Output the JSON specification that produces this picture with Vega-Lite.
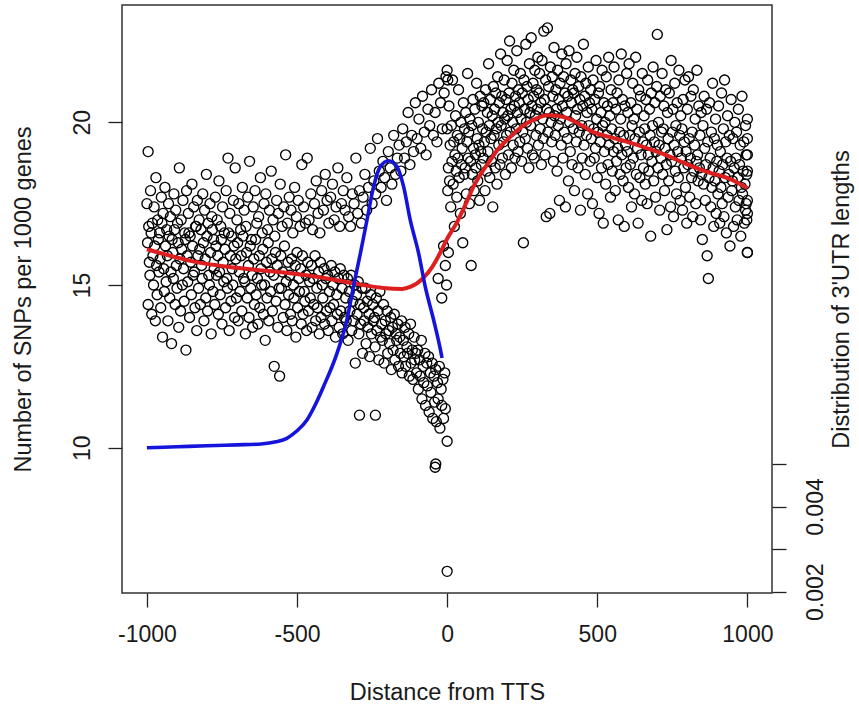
{
"$schema": "https://vega.github.io/schema/vega-lite/v6.json",
"width": 650,
"height": 588,
"autosize": {"type": "none"},
"padding": {"left": 122, "top": 5, "right": 87, "bottom": 113},
"background": "white",
"config": {
  "view": {"stroke": "#333333", "strokeWidth": 1.5},
  "font": "Liberation Sans",
  "axis": {"domain": false, "grid": false, "tickColor": "#222222", "tickWidth": 1.3, "tickSize": 14,
           "labelFont": "Liberation Sans", "labelFontSize": 23, "labelColor": "#1a1a1a",
           "titleFont": "Liberation Sans", "titleFontSize": 23.5, "titleFontWeight": "normal", "titleColor": "#1a1a1a"}
},
"datasets": {
"snp": [
{"x":-1000,"y":17.5},{"x":-998,"y":16.3},{"x":-996,"y":14.4},{"x":-994,"y":16.8},{"x":-992,"y":15.7},{"x":-990,"y":15.3},{"x":-988,"y":17.9},{"x":-986,"y":16.6},{"x":-984,"y":14.1},{"x":-982,"y":16.9},{"x":-980,"y":15.9},{"x":-978,"y":15.0},{"x":-976,"y":17.4},{"x":-974,"y":16.2},{"x":-972,"y":13.9},{"x":-970,"y":18.3},{"x":-968,"y":15.6},{"x":-966,"y":14.7},{"x":-964,"y":17.0},{"x":-962,"y":16.4},{"x":-960,"y":15.4},{"x":-958,"y":16.6},{"x":-956,"y":15.8},{"x":-954,"y":14.3},{"x":-952,"y":17.7},{"x":-950,"y":16.9},{"x":-948,"y":13.4},{"x":-946,"y":17.2},{"x":-944,"y":15.5},{"x":-942,"y":14.8},
{"x":-940,"y":18.0},{"x":-938,"y":16.2},{"x":-936,"y":15.1},{"x":-934,"y":16.7},{"x":-932,"y":15.9},{"x":-930,"y":13.9},{"x":-928,"y":17.5},{"x":-926,"y":16.5},{"x":-924,"y":14.6},{"x":-922,"y":17.1},{"x":-920,"y":15.4},{"x":-918,"y":13.2},{"x":-916,"y":16.4},{"x":-914,"y":16.0},{"x":-912,"y":15.2},{"x":-910,"y":17.8},{"x":-908,"y":16.7},{"x":-906,"y":14.4},{"x":-904,"y":17.3},{"x":-902,"y":15.6},{"x":-900,"y":14.9},{"x":-898,"y":16.9},{"x":-896,"y":16.3},{"x":-894,"y":13.7},{"x":-892,"y":18.6},{"x":-890,"y":15.8},{"x":-888,"y":14.2},{"x":-886,"y":17.0},{"x":-884,"y":16.1},{"x":-882,"y":15.0},
{"x":-880,"y":17.6},{"x":-878,"y":15.5},{"x":-876,"y":14.5},{"x":-874,"y":16.6},{"x":-872,"y":16.4},{"x":-870,"y":13.0},{"x":-868,"y":17.9},{"x":-866,"y":15.9},{"x":-864,"y":15.1},{"x":-862,"y":17.2},{"x":-860,"y":16.6},{"x":-858,"y":14.0},{"x":-856,"y":16.5},{"x":-854,"y":15.7},{"x":-852,"y":14.7},{"x":-850,"y":18.1},{"x":-848,"y":16.2},{"x":-846,"y":15.3},{"x":-844,"y":17.4},{"x":-842,"y":15.4},{"x":-840,"y":14.3},{"x":-838,"y":16.8},{"x":-836,"y":16.8},{"x":-834,"y":13.6},{"x":-832,"y":17.6},{"x":-830,"y":15.9},{"x":-828,"y":14.9},{"x":-826,"y":17.0},{"x":-824,"y":16.1},{"x":-822,"y":14.4},
{"x":-820,"y":16.7},{"x":-818,"y":15.6},{"x":-816,"y":15.2},{"x":-814,"y":17.8},{"x":-812,"y":16.3},{"x":-810,"y":13.9},{"x":-808,"y":17.3},{"x":-806,"y":15.8},{"x":-804,"y":14.6},{"x":-802,"y":18.4},{"x":-800,"y":16.5},{"x":-798,"y":14.2},{"x":-796,"y":16.9},{"x":-794,"y":15.3},{"x":-792,"y":15.0},{"x":-790,"y":17.5},{"x":-788,"y":16.0},{"x":-786,"y":13.5},{"x":-784,"y":17.1},{"x":-782,"y":16.7},{"x":-780,"y":14.8},{"x":-778,"y":16.4},{"x":-776,"y":15.5},{"x":-774,"y":14.4},{"x":-772,"y":17.7},{"x":-770,"y":16.2},{"x":-768,"y":15.3},{"x":-766,"y":17.0},{"x":-764,"y":15.9},{"x":-762,"y":14.1},
{"x":-760,"y":18.2},{"x":-758,"y":15.4},{"x":-756,"y":14.7},{"x":-754,"y":16.8},{"x":-752,"y":16.4},{"x":-750,"y":13.8},{"x":-748,"y":17.4},{"x":-746,"y":15.7},{"x":-744,"y":15.1},{"x":-742,"y":16.6},{"x":-740,"y":16.1},{"x":-738,"y":14.3},{"x":-736,"y":17.9},{"x":-734,"y":15.2},{"x":-732,"y":14.9},{"x":-730,"y":18.9},{"x":-728,"y":16.6},{"x":-726,"y":13.6},{"x":-724,"y":17.2},{"x":-722,"y":15.9},{"x":-720,"y":14.5},{"x":-718,"y":16.5},{"x":-716,"y":15.5},{"x":-714,"y":15.0},{"x":-712,"y":17.6},{"x":-710,"y":16.2},{"x":-708,"y":14.0},{"x":-706,"y":18.6},{"x":-704,"y":15.8},{"x":-702,"y":14.6},
{"x":-700,"y":17.0},{"x":-698,"y":16.3},{"x":-696,"y":13.9},{"x":-694,"y":17.5},{"x":-692,"y":15.4},{"x":-690,"y":14.8},{"x":-688,"y":16.7},{"x":-686,"y":15.9},{"x":-684,"y":14.2},{"x":-682,"y":18.0},{"x":-680,"y":16.5},{"x":-678,"y":15.2},{"x":-676,"y":17.3},{"x":-674,"y":15.1},{"x":-672,"y":13.5},{"x":-670,"y":16.8},{"x":-668,"y":16.0},{"x":-666,"y":14.6},{"x":-664,"y":17.7},{"x":-662,"y":15.6},{"x":-660,"y":14.0},{"x":-658,"y":18.8},{"x":-656,"y":16.2},{"x":-654,"y":14.9},{"x":-652,"y":16.4},{"x":-650,"y":15.3},{"x":-648,"y":13.7},{"x":-646,"y":17.4},{"x":-644,"y":15.8},{"x":-642,"y":14.4},
{"x":-640,"y":17.9},{"x":-638,"y":16.4},{"x":-636,"y":14.7},{"x":-634,"y":16.9},{"x":-632,"y":15.2},{"x":-630,"y":13.8},{"x":-628,"y":17.1},{"x":-626,"y":15.9},{"x":-624,"y":14.3},{"x":-622,"y":18.3},{"x":-620,"y":15.5},{"x":-618,"y":15.0},{"x":-616,"y":16.6},{"x":-614,"y":16.1},{"x":-612,"y":14.1},{"x":-610,"y":17.5},{"x":-608,"y":15.0},{"x":-606,"y":13.3},{"x":-604,"y":17.8},{"x":-602,"y":15.7},{"x":-600,"y":14.6},{"x":-598,"y":16.7},{"x":-596,"y":16.3},{"x":-594,"y":13.9},{"x":-592,"y":17.3},{"x":-590,"y":15.4},{"x":-588,"y":14.8},{"x":-586,"y":18.5},{"x":-584,"y":15.8},{"x":-582,"y":14.2},
{"x":-580,"y":17.0},{"x":-578,"y":15.3},{"x":-576,"y":12.5},{"x":-574,"y":16.5},{"x":-572,"y":16.0},{"x":-570,"y":14.5},{"x":-568,"y":17.6},{"x":-566,"y":15.6},{"x":-564,"y":13.7},{"x":-562,"y":17.2},{"x":-560,"y":14.9},{"x":-558,"y":12.2},{"x":-556,"y":18.1},{"x":-554,"y":15.9},{"x":-552,"y":14.9},{"x":-550,"y":16.8},{"x":-548,"y":15.4},{"x":-546,"y":14.0},{"x":-544,"y":17.4},{"x":-542,"y":16.2},{"x":-540,"y":14.4},{"x":-538,"y":19.0},{"x":-536,"y":15.1},{"x":-534,"y":13.6},{"x":-532,"y":16.9},{"x":-530,"y":15.7},{"x":-528,"y":14.7},{"x":-526,"y":17.7},{"x":-524,"y":15.3},{"x":-522,"y":14.1},
{"x":-520,"y":17.3},{"x":-518,"y":15.8},{"x":-516,"y":13.9},{"x":-514,"y":16.6},{"x":-512,"y":15.0},{"x":-510,"y":14.6},{"x":-508,"y":18.0},{"x":-506,"y":15.6},{"x":-504,"y":13.4},{"x":-502,"y":17.1},{"x":-500,"y":16.0},{"x":-498,"y":14.3},{"x":-496,"y":17.6},{"x":-494,"y":15.2},{"x":-492,"y":14.8},{"x":-490,"y":16.8},{"x":-488,"y":15.5},{"x":-486,"y":13.8},{"x":-484,"y":18.7},{"x":-482,"y":15.9},{"x":-480,"y":14.1},{"x":-478,"y":17.4},{"x":-476,"y":14.8},{"x":-474,"y":14.5},{"x":-472,"y":16.9},{"x":-470,"y":15.3},{"x":-468,"y":13.6},{"x":-466,"y":18.9},{"x":-464,"y":15.7},{"x":-462,"y":14.2},
{"x":-460,"y":17.0},{"x":-458,"y":15.1},{"x":-456,"y":14.6},{"x":-454,"y":17.8},{"x":-452,"y":15.6},{"x":-450,"y":13.7},{"x":-448,"y":16.7},{"x":-446,"y":15.2},{"x":-444,"y":14.4},{"x":-442,"y":17.5},{"x":-440,"y":15.9},{"x":-438,"y":13.9},{"x":-436,"y":18.2},{"x":-434,"y":14.9},{"x":-432,"y":14.3},{"x":-430,"y":17.2},{"x":-428,"y":15.4},{"x":-426,"y":13.5},{"x":-424,"y":16.6},{"x":-422,"y":15.7},{"x":-420,"y":14.0},{"x":-418,"y":17.9},{"x":-416,"y":15.0},{"x":-414,"y":14.6},{"x":-412,"y":17.3},{"x":-410,"y":15.5},{"x":-408,"y":13.8},{"x":-406,"y":18.4},{"x":-404,"y":15.2},{"x":-402,"y":14.2},
{"x":-400,"y":17.6},{"x":-398,"y":15.3},{"x":-396,"y":13.6},{"x":-394,"y":16.9},{"x":-392,"y":14.8},{"x":-390,"y":14.3},{"x":-388,"y":17.7},{"x":-386,"y":15.6},{"x":-384,"y":13.9},{"x":-382,"y":18.1},{"x":-380,"y":15.0},{"x":-378,"y":14.4},{"x":-376,"y":17.0},{"x":-374,"y":15.4},{"x":-372,"y":13.4},{"x":-370,"y":17.4},{"x":-368,"y":14.7},{"x":-366,"y":14.1},{"x":-364,"y":18.6},{"x":-362,"y":15.2},{"x":-360,"y":13.7},{"x":-358,"y":16.8},{"x":-356,"y":15.5},{"x":-354,"y":14.2},{"x":-352,"y":17.5},{"x":-350,"y":14.9},{"x":-348,"y":13.5},{"x":-346,"y":17.9},{"x":-344,"y":15.3},{"x":-342,"y":14.0},
{"x":-340,"y":17.3},{"x":-338,"y":14.6},{"x":-336,"y":13.9},{"x":-334,"y":18.3},{"x":-332,"y":15.2},{"x":-330,"y":13.3},{"x":-328,"y":17.1},{"x":-326,"y":14.8},{"x":-324,"y":14.2},{"x":-322,"y":16.8},{"x":-320,"y":15.3},{"x":-318,"y":13.6},{"x":-316,"y":17.8},{"x":-314,"y":14.5},{"x":-312,"y":13.9},{"x":-310,"y":17.5},{"x":-308,"y":15.0},{"x":-306,"y":12.6},{"x":-304,"y":18.9},{"x":-302,"y":14.7},{"x":-300,"y":14.1},{"x":-298,"y":17.2},{"x":-296,"y":15.1},{"x":-294,"y":13.5},{"x":-292,"y":17.9},{"x":-290,"y":14.4},{"x":-288,"y":13.8},{"x":-286,"y":16.9},{"x":-284,"y":14.9},{"x":-282,"y":12.9},
{"x":-280,"y":17.7},{"x":-278,"y":14.3},{"x":-276,"y":13.9},{"x":-274,"y":18.4},{"x":-272,"y":14.9},{"x":-270,"y":13.2},{"x":-268,"y":17.3},{"x":-266,"y":14.5},{"x":-264,"y":13.7},{"x":-262,"y":18.0},{"x":-260,"y":14.1},{"x":-258,"y":12.8},{"x":-256,"y":19.2},{"x":-254,"y":14.7},{"x":-252,"y":13.5},{"x":-250,"y":17.5},{"x":-248,"y":14.4},{"x":-246,"y":13.9},{"x":-244,"y":18.2},{"x":-242,"y":14.0},{"x":-240,"y":13.1},{"x":-238,"y":17.8},{"x":-236,"y":14.6},{"x":-234,"y":13.6},{"x":-232,"y":19.5},{"x":-230,"y":14.2},{"x":-228,"y":12.7},{"x":-226,"y":18.5},{"x":-224,"y":14.8},{"x":-222,"y":13.4},
{"x":-220,"y":18.0},{"x":-218,"y":13.8},{"x":-216,"y":13.3},{"x":-214,"y":18.8},{"x":-212,"y":14.4},{"x":-210,"y":12.6},{"x":-208,"y":18.3},{"x":-206,"y":13.9},{"x":-204,"y":13.5},{"x":-202,"y":17.6},{"x":-200,"y":14.2},{"x":-198,"y":12.9},{"x":-196,"y":19.1},{"x":-194,"y":13.6},{"x":-192,"y":13.2},{"x":-190,"y":18.6},{"x":-188,"y":14.0},{"x":-186,"y":12.4},{"x":-184,"y":18.1},{"x":-182,"y":13.7},{"x":-180,"y":13.0},{"x":-178,"y":19.6},{"x":-176,"y":14.1},{"x":-174,"y":12.7},{"x":-172,"y":18.4},{"x":-170,"y":13.5},{"x":-168,"y":13.3},{"x":-166,"y":18.9},{"x":-164,"y":13.8},{"x":-162,"y":12.5},
{"x":-160,"y":19.3},{"x":-158,"y":13.4},{"x":-156,"y":12.9},{"x":-154,"y":18.5},{"x":-152,"y":13.9},{"x":-150,"y":12.3},{"x":-148,"y":19.8},{"x":-146,"y":13.3},{"x":-144,"y":12.8},{"x":-142,"y":18.9},{"x":-140,"y":13.7},{"x":-138,"y":12.5},{"x":-136,"y":19.4},{"x":-134,"y":13.1},{"x":-132,"y":12.9},{"x":-130,"y":20.3},{"x":-128,"y":13.5},{"x":-126,"y":12.2},{"x":-124,"y":18.7},{"x":-122,"y":13.8},{"x":-120,"y":12.6},{"x":-118,"y":19.6},{"x":-116,"y":13.0},{"x":-114,"y":12.1},{"x":-112,"y":19.1},{"x":-110,"y":13.4},{"x":-108,"y":12.7},{"x":-106,"y":20.6},{"x":-104,"y":12.9},{"x":-102,"y":12.3},
{"x":-100,"y":19.5},{"x":-98,"y":13.0},{"x":-96,"y":11.8},{"x":-94,"y":20.1},{"x":-92,"y":12.7},{"x":-90,"y":12.2},{"x":-88,"y":19.2},{"x":-86,"y":13.3},{"x":-84,"y":11.5},{"x":-82,"y":20.8},{"x":-80,"y":12.5},{"x":-78,"y":12.0},{"x":-76,"y":19.7},{"x":-74,"y":12.9},{"x":-72,"y":11.3},{"x":-70,"y":19.0},{"x":-68,"y":12.6},{"x":-66,"y":11.9},{"x":-64,"y":20.4},{"x":-62,"y":12.8},{"x":-60,"y":11.1},{"x":-58,"y":19.9},{"x":-56,"y":12.3},{"x":-54,"y":11.7},{"x":-52,"y":21.0},{"x":-50,"y":12.6},{"x":-48,"y":10.9},{"x":-46,"y":19.6},{"x":-44,"y":12.2},{"x":-42,"y":11.4},
{"x":-40,"y":20.3},{"x":-38,"y":12.4},{"x":-36,"y":10.8},{"x":-34,"y":19.4},{"x":-32,"y":12.0},{"x":-30,"y":11.5},{"x":-28,"y":21.2},{"x":-26,"y":12.5},{"x":-24,"y":10.6},{"x":-22,"y":20.6},{"x":-20,"y":11.8},{"x":-18,"y":11.3},{"x":-16,"y":19.8},{"x":-14,"y":12.1},{"x":-12,"y":10.9},{"x":-10,"y":20.9},{"x":-8,"y":12.3},{"x":-6,"y":11.2},{"x":-4,"y":21.4},{"x":-2,"y":15.0},
{"x":-996,"y":19.1},{"x":-292,"y":11.0},{"x":-239,"y":11.0},{"x":-40,"y":9.4},{"x":-38,"y":9.5},{"x":0,"y":10.2},{"x":0,"y":6.2},{"x":-12,"y":16.2},{"x":-18,"y":14.6},{"x":-6,"y":15.6},{"x":-30,"y":15.2},
{"x":0,"y":19.8},{"x":2,"y":17.9},{"x":4,"y":18.6},{"x":6,"y":20.5},{"x":8,"y":18.2},{"x":10,"y":19.3},{"x":12,"y":17.4},{"x":14,"y":19.9},{"x":16,"y":18.8},{"x":18,"y":21.3},{"x":20,"y":18.1},{"x":22,"y":19.4},{"x":24,"y":16.8},{"x":26,"y":19.0},{"x":28,"y":20.2},{"x":30,"y":18.5},{"x":32,"y":17.7},{"x":34,"y":19.6},{"x":36,"y":18.9},{"x":38,"y":21.0},{"x":40,"y":18.3},{"x":42,"y":19.5},{"x":44,"y":17.2},{"x":46,"y":20.0},{"x":48,"y":18.7},{"x":50,"y":19.2},{"x":52,"y":16.3},{"x":54,"y":20.6},{"x":56,"y":18.4},{"x":58,"y":19.8},
{"x":60,"y":18.6},{"x":62,"y":20.3},{"x":64,"y":17.8},{"x":66,"y":19.4},{"x":68,"y":21.5},{"x":70,"y":18.9},{"x":72,"y":19.7},{"x":74,"y":17.5},{"x":76,"y":20.1},{"x":78,"y":18.8},{"x":80,"y":15.6},{"x":82,"y":19.9},{"x":84,"y":18.4},{"x":86,"y":20.7},{"x":88,"y":19.2},{"x":90,"y":17.9},{"x":92,"y":20.4},{"x":94,"y":19.0},{"x":96,"y":18.6},{"x":98,"y":21.2},{"x":100,"y":19.5},{"x":102,"y":18.2},{"x":104,"y":20.0},{"x":106,"y":19.3},{"x":108,"y":17.6},{"x":110,"y":20.8},{"x":112,"y":19.1},{"x":114,"y":18.7},{"x":116,"y":20.5},{"x":118,"y":19.8},
{"x":120,"y":18.9},{"x":122,"y":20.6},{"x":124,"y":19.4},{"x":126,"y":17.9},{"x":128,"y":21.0},{"x":130,"y":19.7},{"x":132,"y":18.5},{"x":134,"y":20.3},{"x":136,"y":19.1},{"x":138,"y":21.8},{"x":140,"y":19.9},{"x":142,"y":18.3},{"x":144,"y":20.7},{"x":146,"y":19.5},{"x":148,"y":18.8},{"x":150,"y":20.2},{"x":152,"y":17.4},{"x":154,"y":21.1},{"x":156,"y":19.6},{"x":158,"y":20.4},{"x":160,"y":18.6},{"x":162,"y":20.9},{"x":164,"y":19.8},{"x":166,"y":18.1},{"x":168,"y":21.4},{"x":170,"y":20.0},{"x":172,"y":19.3},{"x":174,"y":20.6},{"x":176,"y":18.7},{"x":178,"y":22.1},
{"x":180,"y":19.9},{"x":182,"y":20.8},{"x":184,"y":18.9},{"x":186,"y":20.3},{"x":188,"y":19.4},{"x":190,"y":21.3},{"x":192,"y":20.1},{"x":194,"y":18.4},{"x":196,"y":20.7},{"x":198,"y":19.6},{"x":200,"y":21.9},{"x":202,"y":20.2},{"x":204,"y":19.0},{"x":206,"y":20.9},{"x":208,"y":22.5},{"x":210,"y":19.7},{"x":212,"y":20.4},{"x":214,"y":18.6},{"x":216,"y":21.2},{"x":218,"y":20.0},{"x":220,"y":19.3},{"x":222,"y":21.6},{"x":224,"y":20.5},{"x":226,"y":18.9},{"x":228,"y":20.8},{"x":230,"y":19.8},{"x":232,"y":22.2},{"x":234,"y":20.3},{"x":236,"y":19.1},{"x":238,"y":21.0},
{"x":240,"y":20.6},{"x":242,"y":19.4},{"x":244,"y":21.5},{"x":246,"y":20.1},{"x":248,"y":18.8},{"x":250,"y":20.9},{"x":252,"y":19.7},{"x":254,"y":16.3},{"x":256,"y":21.3},{"x":258,"y":20.4},{"x":260,"y":19.5},{"x":262,"y":22.4},{"x":264,"y":20.0},{"x":266,"y":21.1},{"x":268,"y":19.2},{"x":270,"y":20.7},{"x":272,"y":18.6},{"x":274,"y":21.8},{"x":276,"y":20.3},{"x":278,"y":19.9},{"x":280,"y":22.6},{"x":282,"y":20.5},{"x":284,"y":19.0},{"x":286,"y":21.2},{"x":288,"y":20.8},{"x":290,"y":18.9},{"x":292,"y":21.6},{"x":294,"y":20.2},{"x":296,"y":19.6},{"x":298,"y":21.0},
{"x":300,"y":20.4},{"x":302,"y":22.0},{"x":304,"y":19.3},{"x":306,"y":20.9},{"x":308,"y":21.5},{"x":310,"y":19.8},{"x":312,"y":20.6},{"x":314,"y":18.7},{"x":316,"y":21.9},{"x":318,"y":20.1},{"x":320,"y":19.5},{"x":322,"y":22.8},{"x":324,"y":20.7},{"x":326,"y":19.0},{"x":328,"y":21.3},{"x":330,"y":17.1},{"x":332,"y":20.4},{"x":334,"y":22.9},{"x":336,"y":19.7},{"x":338,"y":21.1},{"x":340,"y":20.3},{"x":342,"y":17.2},{"x":344,"y":21.7},{"x":346,"y":20.0},{"x":348,"y":19.4},{"x":350,"y":21.4},{"x":352,"y":20.8},{"x":354,"y":18.8},{"x":356,"y":22.3},{"x":358,"y":20.2},
{"x":360,"y":19.6},{"x":362,"y":21.0},{"x":364,"y":20.4},{"x":366,"y":18.5},{"x":368,"y":21.6},{"x":370,"y":19.9},{"x":372,"y":20.7},{"x":374,"y":17.6},{"x":376,"y":21.2},{"x":378,"y":20.1},{"x":380,"y":19.3},{"x":382,"y":22.1},{"x":384,"y":20.5},{"x":386,"y":18.9},{"x":388,"y":21.4},{"x":390,"y":19.7},{"x":392,"y":20.9},{"x":394,"y":17.4},{"x":396,"y":21.8},{"x":398,"y":20.3},{"x":400,"y":19.5},{"x":402,"y":20.8},{"x":404,"y":18.2},{"x":406,"y":22.2},{"x":408,"y":20.0},{"x":410,"y":19.1},{"x":412,"y":21.3},{"x":414,"y":20.6},{"x":416,"y":18.7},{"x":418,"y":21.0},
{"x":420,"y":19.8},{"x":422,"y":20.9},{"x":424,"y":17.9},{"x":426,"y":21.5},{"x":428,"y":20.2},{"x":430,"y":19.4},{"x":432,"y":22.0},{"x":434,"y":20.4},{"x":436,"y":18.6},{"x":438,"y":21.1},{"x":440,"y":19.7},{"x":442,"y":20.7},{"x":444,"y":17.3},{"x":446,"y":21.4},{"x":448,"y":19.9},{"x":450,"y":18.9},{"x":452,"y":20.5},{"x":454,"y":22.4},{"x":456,"y":19.3},{"x":458,"y":20.8},{"x":460,"y":18.4},{"x":462,"y":21.2},{"x":464,"y":19.6},{"x":466,"y":20.3},{"x":468,"y":17.8},{"x":470,"y":21.7},{"x":472,"y":19.9},{"x":474,"y":20.6},{"x":476,"y":18.8},{"x":478,"y":21.0},
{"x":480,"y":19.5},{"x":482,"y":20.4},{"x":484,"y":17.5},{"x":486,"y":21.3},{"x":488,"y":19.8},{"x":490,"y":18.9},{"x":492,"y":20.7},{"x":494,"y":19.2},{"x":496,"y":21.9},{"x":498,"y":20.1},{"x":500,"y":18.3},{"x":502,"y":19.7},{"x":504,"y":20.9},{"x":506,"y":17.2},{"x":508,"y":21.1},{"x":510,"y":19.4},{"x":512,"y":20.3},{"x":514,"y":18.6},{"x":516,"y":21.6},{"x":518,"y":19.9},{"x":520,"y":16.9},{"x":522,"y":20.6},{"x":524,"y":19.1},{"x":526,"y":20.0},{"x":528,"y":18.1},{"x":530,"y":21.4},{"x":532,"y":19.6},{"x":534,"y":20.5},{"x":536,"y":18.7},{"x":538,"y":22.0},
{"x":540,"y":19.3},{"x":542,"y":20.2},{"x":544,"y":17.7},{"x":546,"y":21.0},{"x":548,"y":19.8},{"x":550,"y":18.5},{"x":552,"y":20.6},{"x":554,"y":19.1},{"x":556,"y":21.7},{"x":558,"y":19.5},{"x":560,"y":17.9},{"x":562,"y":20.4},{"x":564,"y":18.8},{"x":566,"y":20.9},{"x":568,"y":19.2},{"x":570,"y":17.0},{"x":572,"y":21.3},{"x":574,"y":19.7},{"x":576,"y":18.4},{"x":578,"y":20.1},{"x":580,"y":22.1},{"x":582,"y":19.0},{"x":584,"y":20.7},{"x":586,"y":18.2},{"x":588,"y":19.6},{"x":590,"y":16.8},{"x":592,"y":20.5},{"x":594,"y":19.3},{"x":596,"y":18.6},{"x":598,"y":21.5},
{"x":600,"y":19.1},{"x":602,"y":20.3},{"x":604,"y":18.0},{"x":606,"y":21.8},{"x":608,"y":19.6},{"x":610,"y":18.7},{"x":612,"y":20.6},{"x":614,"y":17.4},{"x":616,"y":19.9},{"x":618,"y":21.2},{"x":620,"y":18.9},{"x":622,"y":20.1},{"x":624,"y":17.8},{"x":626,"y":19.5},{"x":628,"y":22.0},{"x":630,"y":18.4},{"x":632,"y":20.4},{"x":634,"y":19.2},{"x":636,"y":16.9},{"x":638,"y":21.0},{"x":640,"y":19.7},{"x":642,"y":18.3},{"x":644,"y":20.8},{"x":646,"y":19.0},{"x":648,"y":17.6},{"x":650,"y":21.5},{"x":652,"y":19.4},{"x":654,"y":18.6},{"x":656,"y":20.2},{"x":658,"y":19.8},
{"x":660,"y":18.1},{"x":662,"y":20.7},{"x":664,"y":19.3},{"x":666,"y":17.5},{"x":668,"y":21.3},{"x":670,"y":19.0},{"x":672,"y":18.5},{"x":674,"y":20.4},{"x":676,"y":19.6},{"x":678,"y":16.5},{"x":680,"y":20.9},{"x":682,"y":18.8},{"x":684,"y":19.9},{"x":686,"y":21.7},{"x":688,"y":18.2},{"x":690,"y":19.4},{"x":692,"y":20.6},{"x":694,"y":17.7},{"x":696,"y":19.1},{"x":698,"y":21.1},{"x":700,"y":22.7},{"x":702,"y":18.6},{"x":704,"y":20.0},{"x":706,"y":19.3},{"x":708,"y":17.3},{"x":710,"y":20.8},{"x":712,"y":18.9},{"x":714,"y":19.7},{"x":716,"y":21.5},{"x":718,"y":18.4},
{"x":720,"y":19.8},{"x":722,"y":20.5},{"x":724,"y":17.9},{"x":726,"y":19.2},{"x":728,"y":21.0},{"x":730,"y":18.7},{"x":732,"y":16.7},{"x":734,"y":20.3},{"x":736,"y":19.5},{"x":738,"y":18.2},{"x":740,"y":20.9},{"x":742,"y":19.0},{"x":744,"y":17.4},{"x":746,"y":21.9},{"x":748,"y":18.8},{"x":750,"y":19.7},{"x":752,"y":20.4},{"x":754,"y":17.1},{"x":756,"y":19.3},{"x":758,"y":21.2},{"x":760,"y":18.5},{"x":762,"y":19.9},{"x":764,"y":17.8},{"x":766,"y":20.6},{"x":768,"y":19.1},{"x":770,"y":18.3},{"x":772,"y":21.6},{"x":774,"y":19.6},{"x":776,"y":17.6},{"x":778,"y":20.2},
{"x":780,"y":18.9},{"x":782,"y":19.8},{"x":784,"y":17.3},{"x":786,"y":20.7},{"x":788,"y":18.6},{"x":790,"y":19.4},{"x":792,"y":21.3},{"x":794,"y":18.0},{"x":796,"y":19.1},{"x":798,"y":16.9},{"x":800,"y":20.4},{"x":802,"y":18.7},{"x":804,"y":21.4},{"x":806,"y":19.5},{"x":808,"y":17.7},{"x":810,"y":18.9},{"x":812,"y":20.8},{"x":814,"y":18.3},{"x":816,"y":19.7},{"x":818,"y":17.1},{"x":820,"y":21.0},{"x":822,"y":18.5},{"x":824,"y":19.3},{"x":826,"y":20.1},{"x":828,"y":17.5},{"x":830,"y":18.8},{"x":832,"y":21.6},{"x":834,"y":19.0},{"x":836,"y":18.2},{"x":838,"y":20.5},
{"x":840,"y":18.6},{"x":842,"y":19.6},{"x":844,"y":17.0},{"x":846,"y":20.3},{"x":848,"y":18.4},{"x":850,"y":16.4},{"x":852,"y":19.9},{"x":854,"y":18.1},{"x":856,"y":20.8},{"x":858,"y":19.2},{"x":860,"y":17.6},{"x":862,"y":18.7},{"x":864,"y":20.4},{"x":866,"y":15.9},{"x":868,"y":19.4},{"x":870,"y":15.2},{"x":872,"y":18.3},{"x":874,"y":20.6},{"x":876,"y":18.9},{"x":878,"y":17.4},{"x":880,"y":19.7},{"x":882,"y":18.0},{"x":884,"y":21.2},{"x":886,"y":18.6},{"x":888,"y":16.8},{"x":890,"y":19.5},{"x":892,"y":18.2},{"x":894,"y":20.1},{"x":896,"y":17.2},{"x":898,"y":18.8},
{"x":900,"y":19.3},{"x":902,"y":17.8},{"x":904,"y":20.5},{"x":906,"y":18.5},{"x":908,"y":16.9},{"x":910,"y":19.1},{"x":912,"y":18.0},{"x":914,"y":20.9},{"x":916,"y":17.5},{"x":918,"y":18.7},{"x":920,"y":19.8},{"x":922,"y":17.1},{"x":924,"y":21.3},{"x":926,"y":18.3},{"x":928,"y":19.4},{"x":930,"y":16.6},{"x":932,"y":18.9},{"x":934,"y":20.2},{"x":936,"y":17.7},{"x":938,"y":18.4},{"x":940,"y":19.6},{"x":942,"y":16.2},{"x":944,"y":18.8},{"x":946,"y":20.7},{"x":948,"y":17.9},{"x":950,"y":18.2},{"x":952,"y":19.5},{"x":954,"y":16.8},{"x":956,"y":18.6},{"x":958,"y":20.0},
{"x":960,"y":17.4},{"x":962,"y":18.9},{"x":964,"y":19.7},{"x":966,"y":17.0},{"x":968,"y":18.3},{"x":970,"y":20.4},{"x":972,"y":17.6},{"x":974,"y":18.7},{"x":976,"y":19.3},{"x":978,"y":16.5},{"x":980,"y":18.0},{"x":982,"y":20.8},{"x":984,"y":17.8},{"x":986,"y":18.5},{"x":988,"y":19.4},{"x":990,"y":16.9},{"x":992,"y":18.1},{"x":994,"y":19.9},{"x":996,"y":17.5},{"x":998,"y":18.4},{"x":1000,"y":16.0},
{"x":1000,"y":16.0},{"x":1000,"y":17.2},{"x":1000,"y":19.0},{"x":1000,"y":18.5},{"x":1000,"y":20.1},{"x":1000,"y":19.5},{"x":1000,"y":17.6},{"x":998,"y":17.0},{"x":996,"y":19.0},{"x":994,"y":17.3},{"x":0,"y":21.6},{"x":2,"y":21.3},{"x":4,"y":16.0}
],
"loess": [
{"x":-1000,"y":16.1},{"x":-822,"y":15.68},{"x":-700,"y":15.53},{"x":-489,"y":15.32},{"x":-400,"y":15.2},{"x":-323,"y":15.07},{"x":-213,"y":14.91},{"x":-150,"y":14.88},{"x":-123,"y":14.94},{"x":-79,"y":15.22},{"x":-50,"y":15.55},{"x":-23,"y":15.99},{"x":0,"y":16.42},{"x":34,"y":16.95},{"x":60,"y":17.45},{"x":87,"y":18.01},{"x":115,"y":18.45},{"x":144,"y":18.84},{"x":170,"y":19.18},{"x":200,"y":19.46},{"x":233,"y":19.75},{"x":267,"y":19.98},{"x":300,"y":20.13},{"x":334,"y":20.22},{"x":367,"y":20.2},{"x":400,"y":20.13},{"x":440,"y":19.95},{"x":487,"y":19.7},{"x":540,"y":19.55},{"x":600,"y":19.4},{"x":655,"y":19.24},{"x":710,"y":19.06},{"x":765,"y":18.85},{"x":820,"y":18.63},{"x":875,"y":18.45},{"x":933,"y":18.29},{"x":1000,"y":17.98}
],
"utr": [
{"x":-1000,"d":0.005383},{"x":-900,"d":0.005405},{"x":-800,"d":0.00543},{"x":-700,"d":0.00545},{"x":-620,"d":0.00547},{"x":-570,"d":0.00552},{"x":-534,"d":0.005603},{"x":-500,"d":0.00578},{"x":-467,"d":0.006033},{"x":-440,"d":0.00638},{"x":-412,"d":0.006816},{"x":-367,"d":0.0076},{"x":-334,"d":0.008382},{"x":-312,"d":0.009165},{"x":-289,"d":0.009949},{"x":-267,"d":0.010732},{"x":-245,"d":0.011514},{"x":-223,"d":0.011983},{"x":-195,"d":0.012125},{"x":-167,"d":0.011983},{"x":-145,"d":0.011514},{"x":-123,"d":0.010732},{"x":-95,"d":0.009949},{"x":-73,"d":0.009165},{"x":-45,"d":0.008382},{"x":-20,"d":0.0076},{"x":-17,"d":0.00749}
]
},
"layer": [
  {
    "data": {"name": "snp"},
    "mark": {"type": "point", "shape": "circle", "filled": false, "size": 100, "strokeWidth": 1.35, "color": "#000000", "opacity": 1, "clip": true},
    "encoding": {
      "x": {"field": "x", "type": "quantitative", "scale": {"domain": [-1083, 1082], "nice": false, "zero": false},
            "axis": {"orient": "bottom", "values": [-1000, -500, 0, 500, 1000], "labelExpr": "'' + datum.value", "labelAngle": 0, "labelAlign": "center", "labelBaseline": "alphabetic", "labelPadding": 34,
                     "title": "Distance from TTS", "titleX": 325, "titleY": 106, "titleAlign": "center", "titleBaseline": "alphabetic"}},
      "y": {"field": "y", "type": "quantitative", "scale": {"domain": [5.535, 23.605], "nice": false, "zero": false},
            "axis": {"orient": "left", "values": [10, 15, 20], "labelAngle": -90, "labelAlign": "center", "labelBaseline": "alphabetic", "labelPadding": 19,
                     "title": "Number of SNPs per 1000 genes", "titleAngle": -90, "titleX": -92, "titleY": 294, "titleAlign": "center", "titleBaseline": "alphabetic"}}
    }
  },
  {
    "data": {"name": "loess"},
    "mark": {"type": "line", "color": "#dd1f1f", "strokeWidth": 4, "interpolate": "monotone", "clip": true},
    "encoding": {
      "x": {"field": "x", "type": "quantitative", "scale": {"domain": [-1083, 1082], "nice": false, "zero": false}},
      "y": {"field": "y", "type": "quantitative", "scale": {"domain": [5.535, 23.605], "nice": false, "zero": false}, "axis": null}
    }
  },
  {
    "data": {"name": "utr"},
    "mark": {"type": "line", "color": "#1414dc", "strokeWidth": 3.6, "interpolate": "monotone", "clip": true},
    "encoding": {
      "x": {"field": "x", "type": "quantitative", "scale": {"domain": [-1083, 1082], "nice": false, "zero": false}},
      "y": {"field": "d", "type": "quantitative", "scale": {"domain": [0.0019695, 0.015782], "nice": false, "zero": false},
            "axis": {"orient": "right", "values": [0.002, 0.003, 0.004, 0.005], "format": ".3f",
                     "labelExpr": "(datum.value < 0.0025 || (datum.value > 0.0035 && datum.value < 0.0045)) ? datum.label : ''",
                     "labelAngle": -90, "labelAlign": "center", "labelBaseline": "alphabetic", "labelPadding": 36,
                     "title": "Distribution of 3'UTR lengths", "titleAngle": -90, "titleX": 76, "titleY": 294, "titleAlign": "center", "titleBaseline": "alphabetic"}}
    }
  }
],
"resolve": {"scale": {"y": "independent"}}
}
